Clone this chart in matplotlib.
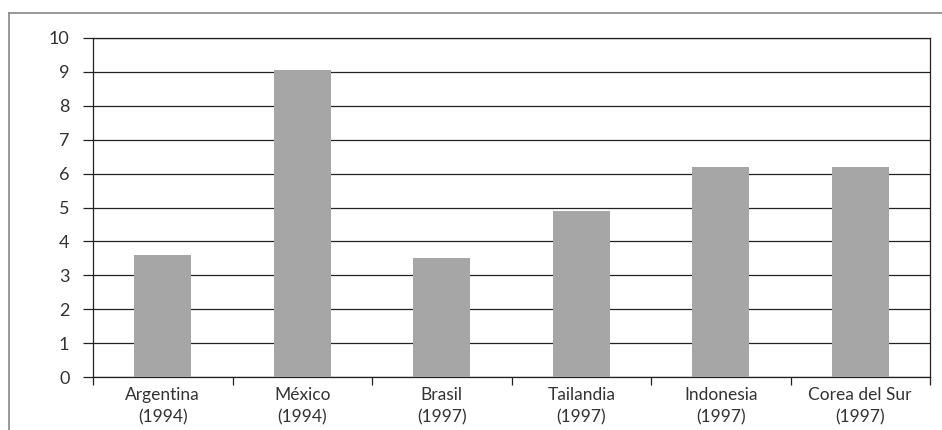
import matplotlib.pyplot as plt
import numpy as np
from matplotlib.lines import Line2D

# Datos por país (año de la crisis)
paises = ['Argentina', 'México', 'Brasil', 'Tailandia', 'Indonesia', 'Corea del Sur']
anios = ['1994', '1994', '1997', '1997', '1997', '1997']
valores = [3.6, 9.05, 3.5, 4.9, 6.2, 6.2]

plt.rcParams['font.family'] = ['Lato', 'DejaVu Sans']

fig = plt.figure(figsize=(9.42, 4.3), dpi=100)
ax = fig.add_axes([93/942, 1 - 377/430, (930 - 93)/942, (377 - 38)/430])

x = np.arange(len(paises))
ax.bar(x, valores, width=0.41, color='#a6a6a6', zorder=3)

ax.set_xlim(-0.5, len(paises) - 0.5)
ax.set_ylim(0, 10)
ax.set_yticks(range(0, 11))
ax.yaxis.grid(True, color='#222222', linewidth=0.9, zorder=0)

# etiquetas en el centro, marcas en los límites de categoría
ax.set_xticks(x)
ax.set_xticklabels([p + '\n(' + a + ')' for p, a in zip(paises, anios)],
                   fontsize=12.5, color='#333333', linespacing=1.5)
ax.set_xticks(np.arange(-0.5, len(paises)), minor=True)
ax.tick_params(axis='x', which='major', length=0, pad=7)
ax.tick_params(axis='x', which='minor', length=6, width=0.9, color='#222222')
ax.tick_params(axis='y', length=7, width=0.9, color='#222222', labelsize=13,
               labelcolor='#333333', pad=10)

for s in ax.spines.values():
    s.set_color('#222222')
    s.set_linewidth(0.9)

# marco exterior (solo arriba e izquierda)
y_top = 1 - 13/430
x_left = 9/942
fig.add_artist(Line2D([x_left, 1], [y_top, y_top], color='#888888', linewidth=1.2))
fig.add_artist(Line2D([x_left, x_left], [0, y_top], color='#888888', linewidth=1.2))

fig.savefig('out.png', dpi=100)
